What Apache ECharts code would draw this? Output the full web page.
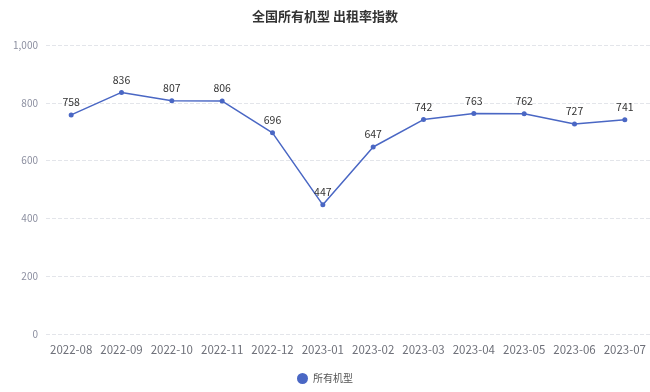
<!DOCTYPE html>
<html><head><meta charset="utf-8">
<script src="https://cdn.jsdelivr.net/npm/echarts@6/dist/echarts.min.js"></script>
<style>html,body{margin:0;padding:0;background:#fff}#c{width:650px;height:392px}</style>
</head><body><div id="c"></div>
<script>
const categories = ['2022-08','2022-09','2022-10','2022-11','2022-12','2023-01','2023-02','2023-03','2023-04','2023-05','2023-06','2023-07'];
const values = [758,836,807,806,696,447,647,742,763,762,727,741];
const seriesName = '所有机型';
const titleText = '全国所有机型 出租率指数';
const chart = echarts.init(document.getElementById('c'));
chart.setOption({
  animation:false,
  textStyle:{fontFamily:'"Noto Sans CJK SC", sans-serif'},
  title:{text:titleText,left:'center',top:5,textStyle:{fontSize:13,fontWeight:'bold',color:'#333'}},
  legend:{bottom:3,left:'center',icon:'circle',itemWidth:11,itemHeight:11,itemGap:10,textStyle:{fontSize:10,color:'#555'},data:[seriesName]},
  grid:{left:46,right:0,top:45,bottom:58},
  xAxis:{type:'category',data:categories,axisLine:{show:false},axisTick:{show:false},
    axisLabel:{color:'#6e7079',fontSize:11.5,margin:10,interval:0}},
  yAxis:{type:'value',min:0,max:1000,interval:200,
    axisLabel:{color:'#8c8fa0',fontSize:10,margin:8},
    splitLine:{lineStyle:{type:'dashed',color:'#e3e5ea'}}},
  series:[{name:seriesName,type:'line',data:values,color:'#4a67c4',symbol:'circle',symbolSize:5,
    lineStyle:{width:1.5},label:{show:true,position:'top',color:'#333',fontSize:10.5}}]
});
</script></body></html>
